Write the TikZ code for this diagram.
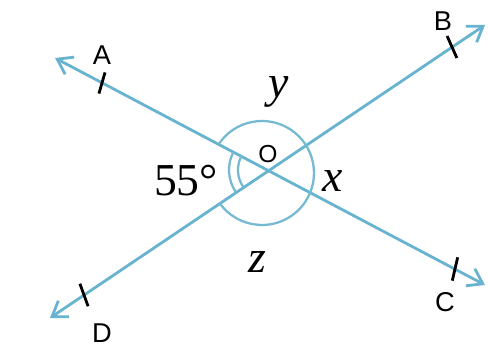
\documentclass[tikz,border=0pt]{standalone}
\usepackage{fontspec}
\setmainfont{Liberation Serif}
\newfontfamily\ptfont{Liberation Sans}
\usetikzlibrary{arrows.meta,positioning}
\definecolor{rayblue}{RGB}{104,180,208}
\definecolor{arcblue}{RGB}{118,186,210}

\begin{document}
\begin{tikzpicture}[x=0.02cm, y=0.02cm,
  ray/.style={draw=rayblue, line width=1.6pt,
    {Straight Barb[length=8pt,width=11pt]}-{Straight Barb[length=8pt,width=11pt]}},
  ang/.style={draw=arcblue, line width=1.3pt},
  tck/.style={draw=black, line width=1.6pt},
  pt/.style={font=\ptfont\fontsize{15.5}{16}\selectfont, inner sep=0pt},
  val/.style={font=\fontsize{26}{28}\selectfont, inner sep=0pt}]
\useasboundingbox (-268,-180) rectangle (220,170);
\coordinate (O) at (0,0);
\coordinate (c) at (-6,-3);
\coordinate (tA) at (-213,112);
\coordinate (tB) at (217,145);
\coordinate (tC) at (217,-115);
\coordinate (tD) at (-218,-148);
\coordinate (kA) at (-166,87);
\coordinate (kB) at (184,123);
\coordinate (kC) at (187,-99);
\coordinate (kD) at (-184,-125);
\draw[ray] (tA) -- (tC);
\draw[ray] (tB) -- (tD);
\draw[ang] ([shift={(146.2:52)}]c) arc[start angle=146.2, end angle=-144.9, radius=52];
\draw[ang] ([shift={(152.3:39)}]O) arc[start angle=152.3, end angle=214.2, radius=39];
\draw[ang] ([shift={(152.3:30)}]O) arc[start angle=152.3, end angle=214.2, radius=30];
\draw[tck] ([shift={(74:11)}]kA) -- ([shift={(254:11)}]kA);
\draw[tck] ([shift={(114:12)}]kB) -- ([shift={(294:12)}]kB);
\draw[tck] ([shift={(77:12)}]kC) -- ([shift={(257:12)}]kC);
\draw[tck] ([shift={(110:12)}]kD) -- ([shift={(290:12)}]kD);
\node[pt, above=0.36cm of kA] (lA) {A};
\node[pt, above=0.32cm of kB, xshift=-0.18cm] (lB) {B};
\node[pt, below=0.46cm of kC, xshift=-0.2cm] (lC) {C};
\node[pt, below=0.56cm of kD, xshift=0.36cm] (lD) {D};
\node[pt, font=\ptfont\fontsize{14}{14}\selectfont, above=0.14cm of O] (lO) {O};
\node[val] (ly) at (11,78) {\itshape y};
\node[val] (lx) at (65,-11) {\itshape x};
\node[val] (lz) at (-11,-92) {\itshape z};
\node[val] (l55) at (-82,-11) {55°};
\end{tikzpicture}
\end{document}
